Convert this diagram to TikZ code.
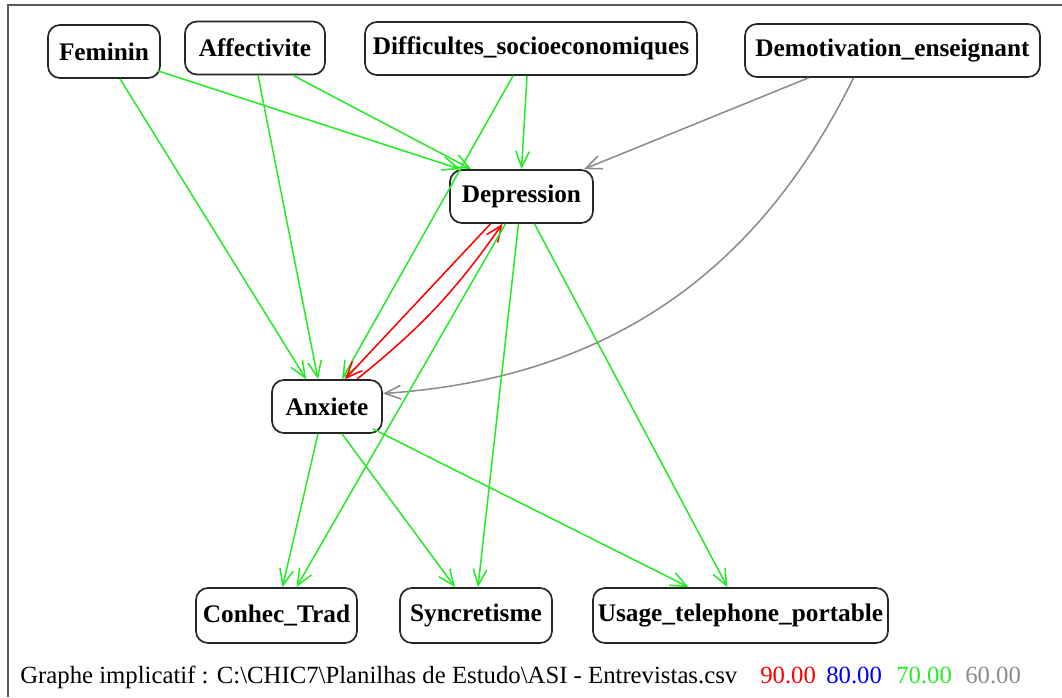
\documentclass[tikz,border=0pt]{standalone}
\usepackage{fontspec}
\setmainfont{Liberation Serif}
\usepackage{tikz}
\usetikzlibrary{arrows.meta}
\usetikzlibrary{calc}
\definecolor{arcgreen}{RGB}{40,235,40}
\definecolor{arcgray}{RGB}{140,140,140}
\definecolor{framegray}{RGB}{90,90,90}

\begin{document}
\begin{tikzpicture}[x=0.025cm,y=-0.025cm,
  var/.style={draw=black!85,line width=1.2pt,rounded corners=0.3cm,fill=white,
    font=\fontsize{18}{20}\selectfont\bfseries,inner xsep=2pt,minimum height=1.325cm},
  tip/.style={-{Straight Barb[length=4mm,width=3.4mm]}},
  arc90/.style={tip,draw=red,line width=1.1pt},
  arc70/.style={tip,draw=arcgreen,line width=1.1pt},
  arc60/.style={tip,draw=arcgray,line width=1.1pt},
  legend/.style={anchor=base west,inner sep=0pt,font=\fontsize{17.6}{20}\selectfont}]
\useasboundingbox (0,0) rectangle (1062,697);
\draw[framegray,line width=0.8pt] (8,697) -- (8,5) -- (1062,5);

% variables
\node[var,minimum width=2.8cm] (Feminin) at (104,51.5) {Feminin};
\node[var,minimum width=3.5cm] (Affectivite) at (255,48) {Affectivite};
\node[var,minimum width=8.3cm] (Difficultes) at (531,48.5) {Difficultes\_socioeconomiques};
\node[var,minimum width=7.375cm] (Demotivation) at (892.5,50.5) {Demotivation\_enseignant};
\node[var,minimum width=3.575cm] (Depression) at (521.5,196.5) {Depression};
\node[var,minimum width=2.75cm] (Anxiete) at (327,406.5) {Anxiete};
\node[var,minimum width=4.025cm,minimum height=1.375cm] (Conhec) at (276.5,615.5) {Conhec\_Trad};
\node[var,minimum width=3.8cm,minimum height=1.375cm] (Syncretisme) at (476,615.5) {Syncretisme};
\node[var,minimum width=7.375cm,minimum height=1.375cm] (Usage) at (740.5,615.5) {Usage\_telephone\_portable};

% implications
\draw[arc70] ($(Feminin.south east)+(-3,-8)$) -- ($(Depression.north west)+(11,0)$);
\draw[arc70] ($(Feminin.south)+(16,0)$) -- ($(Anxiete.north west)+(35,0)$);
\draw[arc70] ($(Affectivite.south)+(38,0)$) -- ($(Depression.north west)+(22,0)$);
\draw[arc70] ($(Affectivite.south)+(3,0)$) -- ($(Anxiete.north)+(-9,0)$);
\draw[arc70] ($(Difficultes.south)+(-4,0)$) -- (Depression.north);
\draw[arc70] ($(Difficultes.south)+(-18,0)$) -- ($(Anxiete.north)+(15,0)$);
\draw[arc60] ($(Demotivation.south)+(-84,0)$) -- ($(Depression.north east)+(-10,0)$);
\draw[arc60] ($(Demotivation.south)+(-39,0)$) to[bend left=30] ($(Anxiete.east)+(0,-13)$);
\draw[arc90] ($(Depression.south)+(-31,0)$) -- ($(Anxiete.north)+(18,0)$);
\draw[arc90] ($(Anxiete.north)+(30,0)$) to[bend right=8] ($(Depression.south)+(-19,0)$);
\draw[arc70] ($(Depression.south)+(-16,0)$) -- ($(Conhec.north)+(20,0)$);
\draw[arc70] ($(Depression.south)+(-3,0)$) -- ($(Syncretisme.north)+(2,0)$);
\draw[arc70] ($(Depression.south)+(13,0)$) -- ($(Usage.north)+(-13,0)$);
\draw[arc70] ($(Anxiete.south)+(-9,0)$) -- ($(Conhec.north)+(6,0)$);
\draw[arc70] ($(Anxiete.south)+(15,0)$) -- ($(Syncretisme.north)+(-21,0)$);
\draw[arc70] ($(Anxiete.south east)+(-10,-5)$) -- ($(Usage.north)+(-52,0)$);

% legende
\node[legend] (caption) at (20,683) {Graphe implicatif : C:\textbackslash CHIC7\textbackslash Planilhas de Estudo\textbackslash ASI - Entrevistas.csv};
\node[legend,text=red] (t90) at (760,683) {90.00};
\node[legend,text=blue] (t80) at (826,683) {80.00};
\node[legend,text=arcgreen] (t70) at (896,683) {70.00};
\node[legend,text=arcgray] (t60) at (965,683) {60.00};

\end{tikzpicture}
\end{document}
